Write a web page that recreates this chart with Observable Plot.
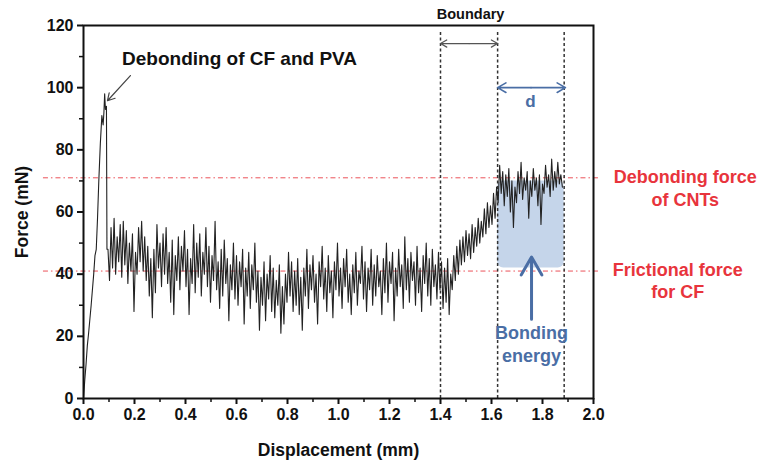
<!DOCTYPE html>
<html><head><meta charset="utf-8">
<script src="https://cdn.jsdelivr.net/npm/d3@7"></script>
<script src="https://cdn.jsdelivr.net/npm/@observablehq/plot@0.6"></script>
<style>body{margin:0;background:#fff}svg{overflow:visible}</style>
</head><body><div id="chart"></div>
<script>
// Loading ramp: [displacement (mm), force (mN)]
const rampPoints = [[0,0],[0.005,6],[0.01,11],[0.015,17],[0.02,21],[0.03,30],[0.04,40],[0.045,46],[0.05,48],[0.055,58],[0.06,70],[0.066,82],[0.072,91],[0.077,88],[0.08,92],[0.083,98],[0.086,93],[0.09,94],[0.092,48]];
// Pull-out trace: [displacement (mm), force (mN)]
const tracePoints = [
[0.096,48],[0.102,38],[0.108,55],[0.114,42],[0.120,58],[0.126,40],[0.132,52],[0.138,44],[0.144,56],[0.150,39],
[0.156,57],[0.162,43],[0.168,54],[0.174,37],[0.180,50],[0.186,41],[0.192,53],[0.198,28],[0.204,47],[0.210,40],
[0.216,55],[0.222,44],[0.228,57],[0.234,41],[0.240,52],[0.246,38],[0.252,49],[0.258,33],[0.264,45],[0.270,26],
[0.276,48],[0.282,34],[0.288,56],[0.294,42],[0.300,50],[0.306,36],[0.312,53],[0.318,40],[0.324,55],[0.330,37],
[0.336,47],[0.342,31],[0.348,51],[0.354,27],[0.360,46],[0.366,38],[0.372,52],[0.378,35],[0.384,49],[0.390,41],
[0.396,54],[0.402,36],[0.408,48],[0.414,27],[0.420,45],[0.426,37],[0.432,56],[0.438,34],[0.444,50],[0.450,39],
[0.456,53],[0.462,33],[0.468,47],[0.474,40],[0.480,55],[0.486,36],[0.492,49],[0.498,31],[0.504,46],[0.510,38],
[0.516,57],[0.522,35],[0.528,44],[0.534,29],[0.540,48],[0.546,33],[0.552,51],[0.558,37],[0.564,45],[0.570,25],
[0.576,43],[0.582,35],[0.588,50],[0.594,32],[0.600,46],[0.606,30],[0.612,44],[0.618,36],[0.624,48],[0.630,24],
[0.636,42],[0.642,33],[0.648,47],[0.654,29],[0.660,43],[0.666,35],[0.672,50],[0.678,31],[0.684,41],[0.690,22],
[0.696,39],[0.702,30],[0.708,44],[0.714,25],[0.720,40],[0.726,32],[0.732,46],[0.738,28],[0.744,42],[0.750,26],
[0.756,38],[0.762,30],[0.768,43],[0.774,21],[0.780,36],[0.786,24],[0.792,40],[0.798,31],[0.804,47],[0.810,33],
[0.816,44],[0.822,28],[0.828,41],[0.834,30],[0.840,45],[0.846,27],[0.852,39],[0.858,22],[0.864,42],[0.870,33],
[0.876,48],[0.882,29],[0.888,43],[0.894,35],[0.900,46],[0.906,31],[0.912,40],[0.918,24],[0.924,44],[0.930,36],
[0.936,49],[0.942,32],[0.948,42],[0.954,28],[0.960,46],[0.966,34],[0.972,41],[0.978,26],[0.984,44],[0.990,35],
[0.996,50],[1.002,33],[1.008,42],[1.014,29],[1.020,45],[1.026,36],[1.032,48],[1.038,31],[1.044,40],[1.050,27],
[1.056,43],[1.062,34],[1.068,47],[1.074,30],[1.080,41],[1.086,37],[1.092,49],[1.098,32],[1.104,44],[1.110,28],
[1.116,42],[1.122,35],[1.128,48],[1.134,30],[1.140,43],[1.146,33],[1.152,46],[1.158,36],[1.164,41],[1.170,27],
[1.176,45],[1.182,34],[1.188,50],[1.194,31],[1.200,44],[1.206,37],[1.212,47],[1.218,25],[1.224,42],[1.230,33],
[1.236,48],[1.242,36],[1.248,43],[1.254,29],[1.260,52],[1.266,35],[1.272,45],[1.278,31],[1.284,47],[1.290,38],
[1.296,44],[1.302,30],[1.308,49],[1.314,34],[1.320,42],[1.326,28],[1.332,46],[1.338,37],[1.344,50],[1.350,33],
[1.356,45],[1.362,30],[1.368,48],[1.374,36],[1.380,43],[1.386,32],[1.392,47],[1.398,35],[1.404,44],[1.410,29],
[1.416,42],[1.422,31],[1.428,45],[1.434,27],[1.440,40],[1.446,35],[1.452,46],[1.458,38],[1.464,49],[1.470,40],
[1.476,51],[1.482,43],[1.488,52],[1.494,44],[1.500,54],[1.506,46],[1.512,53],[1.518,45],[1.524,56],[1.530,47],
[1.536,55],[1.542,49],[1.548,58],[1.554,50],[1.560,57],[1.566,52],[1.572,61],[1.578,53],[1.584,63],[1.590,55],
[1.596,62],[1.602,56],[1.608,66],[1.614,58],[1.620,68],[1.626,63],[1.632,75],[1.638,66],[1.644,73],[1.650,62],
[1.656,72],[1.662,65],[1.668,74],[1.674,60],[1.680,70],[1.686,55],[1.692,68],[1.698,63],[1.704,73],[1.710,66],
[1.716,76],[1.722,64],[1.728,71],[1.734,67],[1.740,73],[1.746,58],[1.752,70],[1.758,65],[1.764,74],[1.770,67],
[1.776,71],[1.782,62],[1.788,72],[1.794,56],[1.800,69],[1.806,66],[1.812,75],[1.818,68],[1.824,72],[1.830,65],
[1.836,77],[1.842,67],[1.848,73],[1.854,68],[1.860,76],[1.866,69],[1.872,72],[1.878,68]
];
const forceLevels = [71, 41];            // debonding force of CNTs, frictional force for CF
const boundaryLines = [1.4, 1.624, 1.885]; // mm
const bondingBox = [{x1: 1.624, x2: 1.885, y1: 42, y2: 70}];
const yTicks = [0, 20, 40, 60, 80, 100, 120];
const yMinor = [10, 30, 50, 70, 90, 110];
const xTicks = [0, 0.2, 0.4, 0.6, 0.8, 1.0, 1.2, 1.4, 1.6, 1.8, 2.0];
const xMinor = [0.1, 0.3, 0.5, 0.7, 0.9, 1.1, 1.3, 1.5, 1.7, 1.9];

const RED = "#e8343c", BLUE = "#4a6ea5";
const points = rampPoints.concat(tracePoints);

const chart = Plot.plot({
  width: 759, height: 463,
  marginLeft: 83, marginRight: 166, marginTop: 25, marginBottom: 65,
  x: {domain: [0, 2]}, y: {domain: [0, 120]},
  style: {fontFamily: "'Liberation Sans', Arial, sans-serif", fontSize: "16px", fontWeight: "bold", background: "#fff", color: "#111"},
  marks: [
    Plot.rect(bondingBox, {x1: "x1", x2: "x2", y1: "y1", y2: "y2", fill: "#c5d5ea", rx: 6}),
    Plot.ruleY(forceLevels, {y: d => d, x1: -0.157, x2: 2.03, stroke: RED, strokeOpacity: 0.85, strokeWidth: 1, strokeDasharray: "5,3,1.5,3"}),
    Plot.ruleX(boundaryLines, {x: d => d, y1: 0, y2: 118.5, stroke: "#333", strokeWidth: 1.5, strokeDasharray: "3,2.5"}),
    Plot.line(points, {x: d => d[0], y: d => d[1], stroke: "#222", strokeWidth: 1.1}),
    Plot.frame({strokeWidth: 2, stroke: "#111"}),
    Plot.axisY(yTicks, {tickSize: 6, tickPadding: 4, strokeWidth: 2, tickFormat: d => String(d), label: null, fontSize: 16}),
    Plot.axisY(yMinor, {tickSize: 4, strokeWidth: 1.5, tickFormat: () => "", label: null}),
    Plot.axisX(xTicks, {tickSize: 6, tickPadding: 4, strokeWidth: 2, tickFormat: d3.format(".1f"), label: null, fontSize: 16}),
    Plot.axisX(xMinor, {tickSize: 4, strokeWidth: 1.5, tickFormat: () => "", label: null}),
    // axis titles
    Plot.text(["Displacement (mm)"], {x: 1.0, y: -16.7, text: d => d, fontSize: 17.5}),
    Plot.text(["Force (mN)"], {x: -0.239, y: 60, text: d => d, rotate: -90, fontSize: 17.5}),
    // peak annotation
    Plot.text(["Debonding of CF and PVA"], {x: 0.612, y: 109.4, text: d => d, fontSize: 19}),
    Plot.arrow([{x1: 0.184, y1: 103.9, x2: 0.094, y2: 95.8}], {x1: "x1", y1: "y1", x2: "x2", y2: "y2", stroke: "#444", strokeWidth: 1.2, headLength: 10}),
    // boundary
    Plot.text(["Boundary"], {x: 1.518, y: 123.6, text: d => d, fontSize: 14.5}),
    Plot.arrow([{x1: 1.512, x2: 1.4}, {x1: 1.512, x2: 1.624}], {x1: "x1", x2: "x2", y1: 114.2, y2: 114.2, stroke: "#555", strokeWidth: 1.2, headLength: 9}),
    // d
    Plot.arrow([{x1: 1.755, x2: 1.624}, {x1: 1.755, x2: 1.89}], {x1: "x1", x2: "x2", y1: 100, y2: 100, stroke: BLUE, strokeWidth: 1.6, headLength: 9}),
    Plot.text(["d"], {x: 1.753, y: 95.5, text: d => d, fontSize: 17, fill: BLUE}),
    // bonding energy
    Plot.arrow([{x1: 1.757, y1: 25.5, x2: 1.757, y2: 45.5}], {x1: "x1", y1: "y1", x2: "x2", y2: "y2", stroke: BLUE, strokeWidth: 3, headLength: 12}),
    Plot.text(["Bonding", "energy"], {x: 1.757, y: (d, i) => [20.9, 13.5][i], text: d => d, fontSize: 18, fontWeight: 600, fill: BLUE}),
    // red labels
    Plot.text(["Debonding force", "of CNTs"], {x: 2.36, y: (d, i) => [71.1, 63.7][i], text: d => d, fontSize: 18, fill: RED}),
    Plot.text(["Frictional force", "for CF"], {x: 2.33, y: (d, i) => [41.2, 34.1][i], text: d => d, fontSize: 18, fill: RED})
  ]
});
document.getElementById("chart").appendChild(chart);
</script>
</body></html>
